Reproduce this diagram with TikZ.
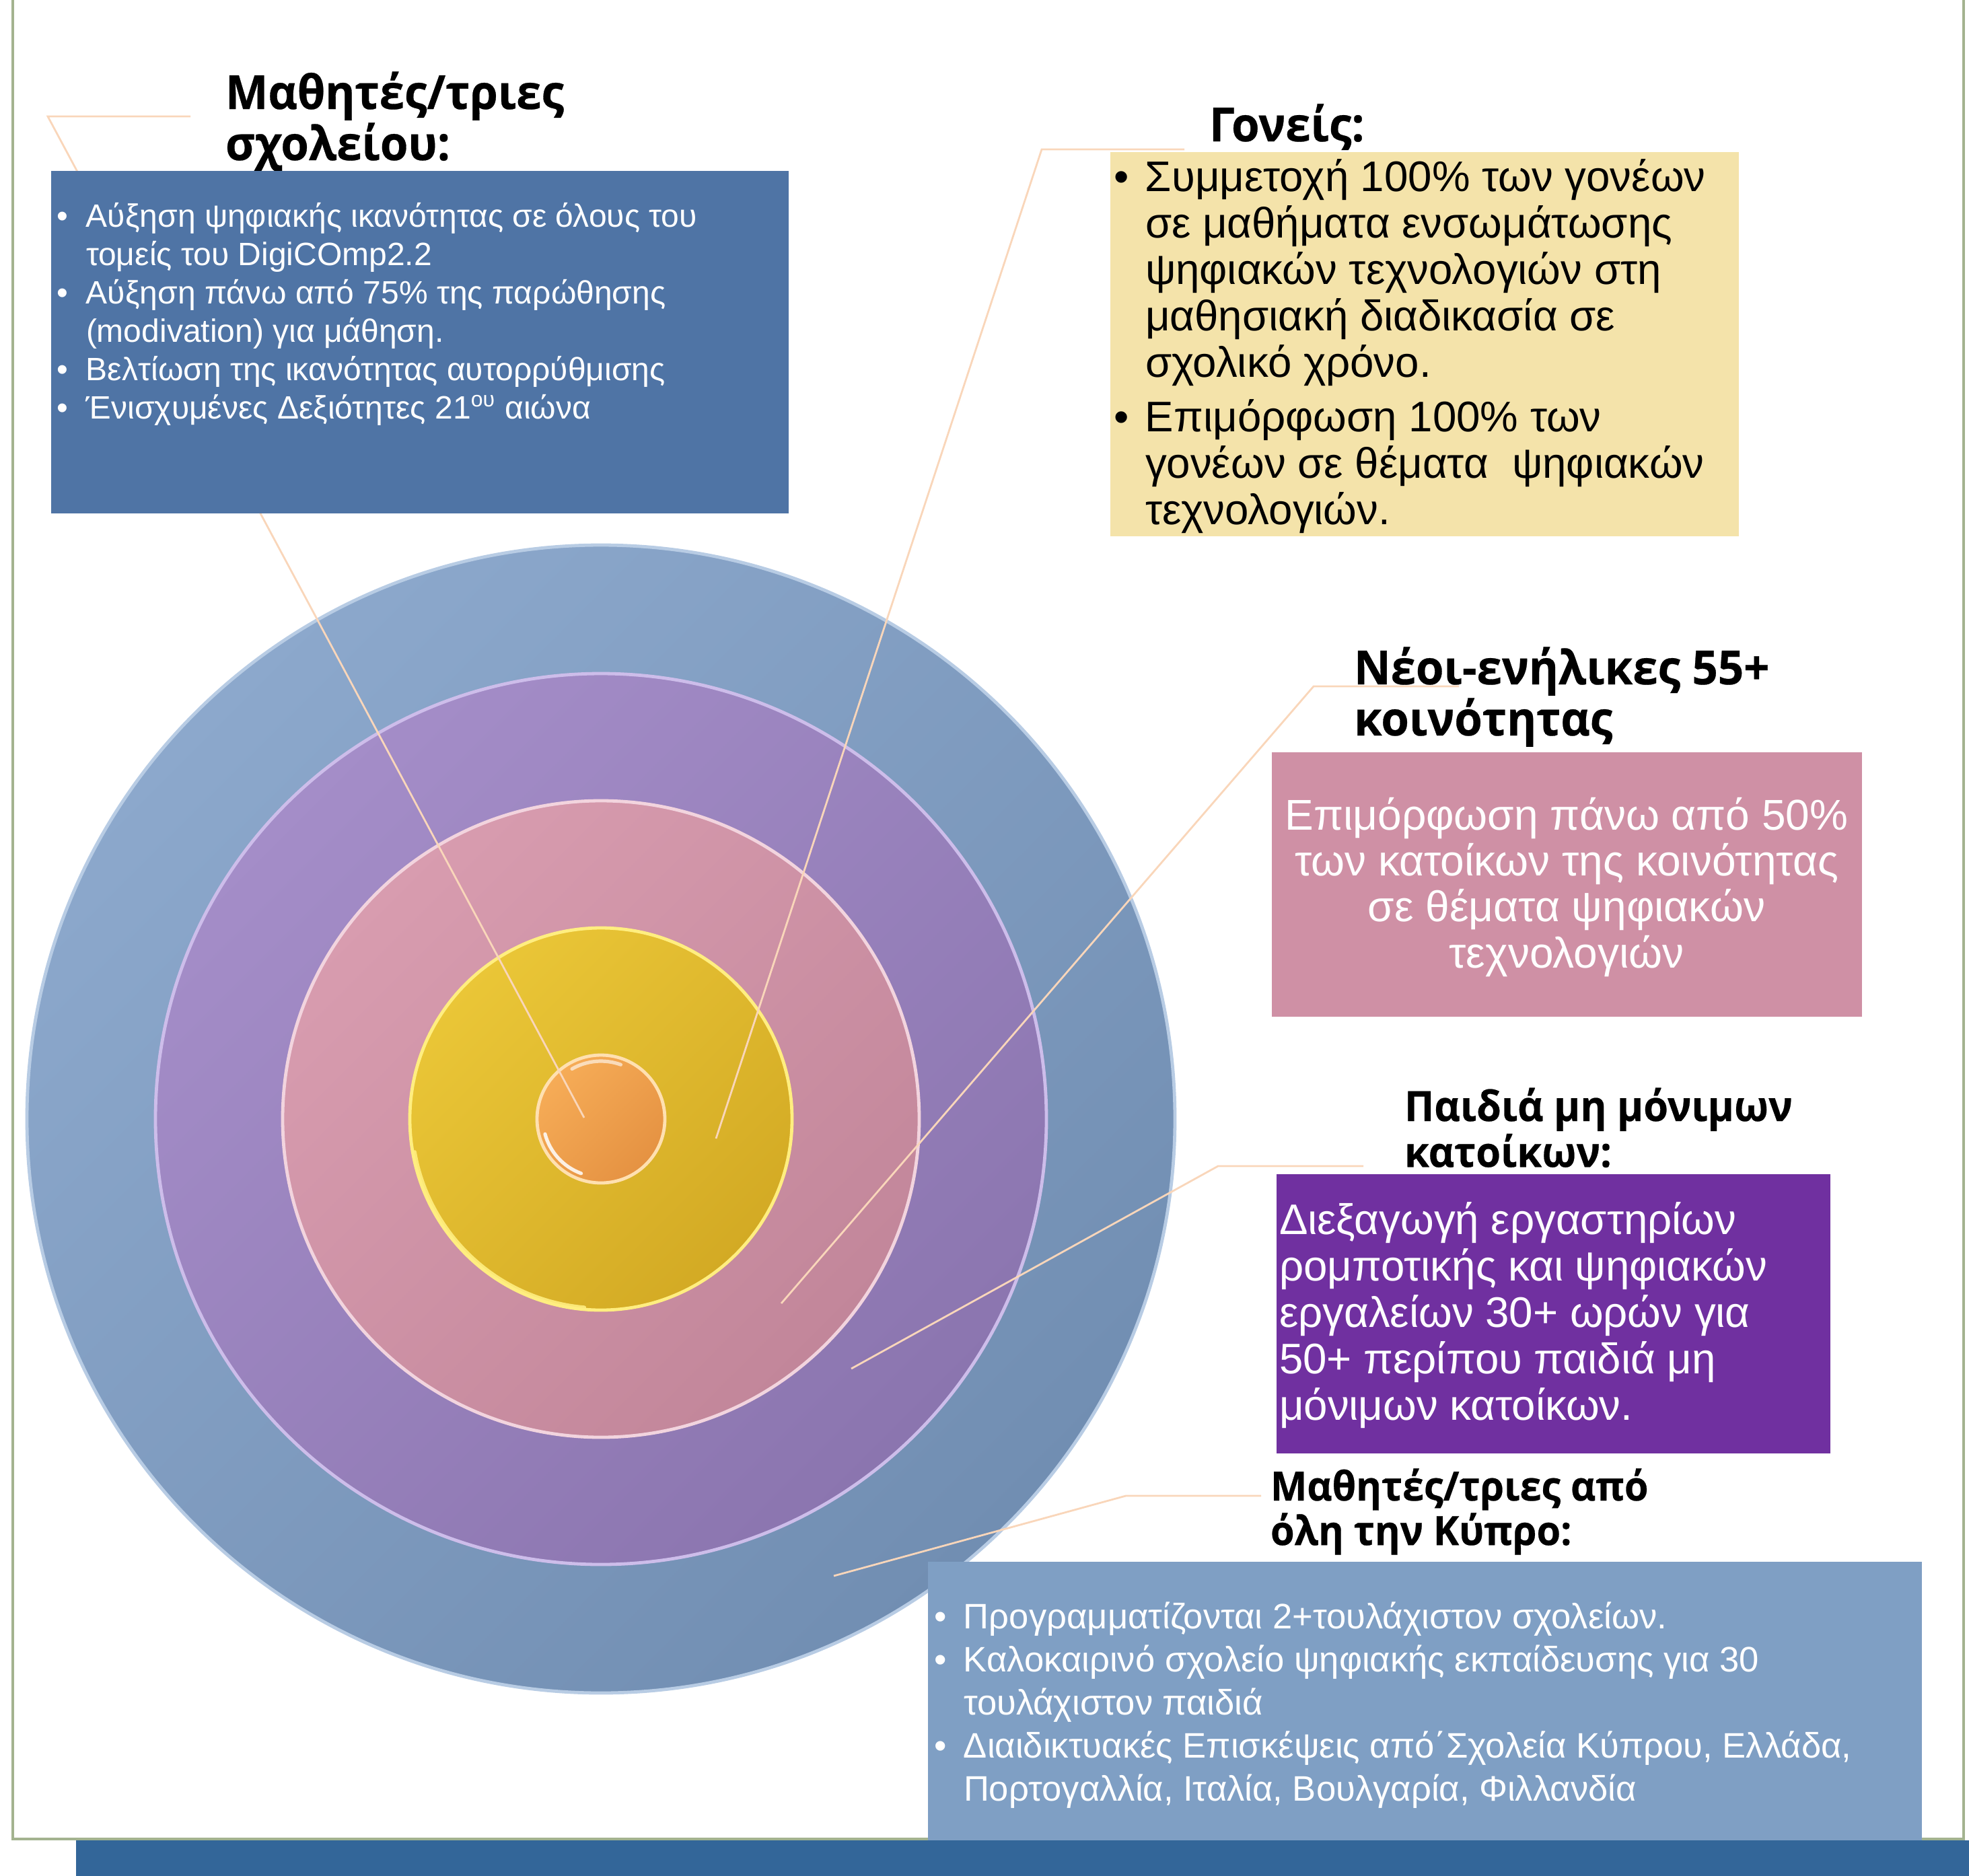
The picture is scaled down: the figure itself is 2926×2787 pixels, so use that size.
\documentclass[tikz,border=0pt]{standalone}
\usepackage{fontspec}
\setmainfont{Liberation Sans}
\newfontfamily\titlefont{Open Sans}[BoldFeatures={FakeStretch=0.96,FakeBold=0.4}]
\definecolor{framecol}{HTML}{A3B38F}
\definecolor{barcol}{HTML}{336699}
\definecolor{leadcol}{HTML}{F9D6BA}
\definecolor{boxA}{HTML}{4F74A5}
\definecolor{boxB}{HTML}{F4E3AA}
\definecolor{boxC}{HTML}{CF90A5}
\definecolor{boxD}{HTML}{7030A0}
\definecolor{boxE}{HTML}{7F9FC4}
\definecolor{c1a}{HTML}{8CA8CC}\definecolor{c1b}{HTML}{718EB2}\definecolor{c1r}{HTML}{B8CCE4}
\definecolor{c2a}{HTML}{A48DC8}\definecolor{c2b}{HTML}{8B75AF}\definecolor{c2r}{HTML}{CDBDEA}
\definecolor{c3a}{HTML}{D89CAF}\definecolor{c3b}{HTML}{C2869A}\definecolor{c3r}{HTML}{F2D4DE}
\definecolor{c4a}{HTML}{EAC637}\definecolor{c4b}{HTML}{D3AA24}\definecolor{c4r}{HTML}{FFEE80}
\definecolor{c5a}{HTML}{F6AC57}\definecolor{c5b}{HTML}{E59242}\definecolor{c5r}{HTML}{FFE0B0}
\newcommand{\bitem}[2]{\par\hangindent=#1\hangafter=1\noindent\makebox[#1][l]{•}#2\par}
\tikzset{
  ring/.style={circle, inner sep=0pt, outer sep=0pt, line width=1.2pt},
  tilt/.style={shading angle=45},
  leader/.style={draw=leadcol, line width=0.7pt},
  panel/.style={rectangle, anchor=north west, inner sep=0pt, outer sep=0pt, draw=none},
  ttl/.style={anchor=base west, inner sep=0pt, outer sep=0pt, font=\titlefont\bfseries},
  txt/.style={anchor=base west, inner sep=0pt, outer sep=0pt},
  gloss/.style={line width=1.3pt, line cap=round}
}
\begin{document}
\begin{tikzpicture}[x=0.25pt,y=-0.25pt]
\useasboundingbox (0,0) rectangle (2926,2787);
% frame and bottom bar
\draw[framecol, line width=0.8pt] (19,-20) rectangle (2918,2733);
\fill[barcol] (113,2735) rectangle (2940,2800);
% concentric circles
\node[ring, top color=c1a, bottom color=c1b, tilt, draw=c1r, minimum size=426.5pt] (r1) at (893,1663) {};
\node[ring, top color=c2a, bottom color=c2b, tilt, draw=c2r, minimum size=331pt] (r2) at (893,1663) {};
\node[ring, top color=c3a, bottom color=c3b, tilt, draw=c3r, minimum size=236.5pt] (r3) at (893,1663) {};
\node[ring, top color=c4a, bottom color=c4b, tilt, draw=c4r, minimum size=142pt] (r4) at (893,1663) {};
\node[ring, top color=c5a, bottom color=c5b, tilt, draw=c5r, minimum size=47.5pt] (r5) at (893,1663) {};
% bevel highlights
\begin{scope}[shift={(r5.center)}, x=0.25pt, y=0.25pt]
  \draw[gloss, white, opacity=0.85] (195:86) arc[start angle=195, end angle=250, radius=86];
  \draw[gloss, white, opacity=0.6] (70:86) arc[start angle=70, end angle=120, radius=86];
  \draw[gloss, c4r, opacity=0.9] (190:281) arc[start angle=190, end angle=265, radius=281];
\end{scope}
% titles
\node[ttl] (t1) at (335,162) {\parbox[t]{250pt}{\fontsize{17.5pt}{19pt}\selectfont Μαθητές/τριες\\σχολείου:}};
\node[ttl] (t2) at (1797,210) {\parbox[t]{150pt}{\fontsize{17.5pt}{19pt}\selectfont Γονείς:}};
\node[ttl] (t3) at (2012,1017) {\parbox[t]{220pt}{\fontsize{17.5pt}{19pt}\selectfont Νέοι-ενήλικες 55+\\κοινότητας}};
\node[ttl] (t4) at (2087,1666) {\parbox[t]{220pt}{\fontsize{15.5pt}{16pt}\selectfont Παιδιά μη μόνιμων\\κατοίκων:}};
\node[ttl] (t5) at (1888,2230) {\parbox[t]{220pt}{\fontsize{15pt}{14.5pt}\selectfont Μαθητές/τριες από\\όλη την Κύπρο:}};
% leader lines
\coordinate (l1a) at (868,1661); \coordinate (l1b) at (71,173);  \coordinate (l1c) at (283,173);
\coordinate (l2a) at (1064,1692); \coordinate (l2b) at (1548,222); \coordinate (l2c) at (1760,222);
\coordinate (l3a) at (1161,1937); \coordinate (l3b) at (1952,1020); \coordinate (l3c) at (2168,1020);
\coordinate (l4a) at (1265,2034); \coordinate (l4b) at (1810,1733); \coordinate (l4c) at (2026,1733);
\coordinate (l5a) at (1239,2342); \coordinate (l5b) at (1673,2223); \coordinate (l5c) at (1874,2223);
\draw[leader] (l1a) -- (l1b) -- (l1c);
\draw[leader] (l2a) -- (l2b) -- (l2c);
\draw[leader] (l3a) -- (l3b) -- (l3c);
\draw[leader] (l4a) -- (l4b) -- (l4c);
\draw[leader] (l5a) -- (l5b) -- (l5c);
% panels
\node[panel, fill=boxA, minimum width=274pt, minimum height=127.25pt] (b1) at (76,254) {};
\node[panel, fill=boxB, minimum width=233.5pt, minimum height=142.75pt] (b2) at (1650,226) {};
\node[panel, fill=boxC, minimum width=219.25pt, minimum height=98.25pt] (b3) at (1890,1118) {};
\node[panel, fill=boxD, minimum width=205.75pt, minimum height=103.75pt] (b4) at (1897,1745) {};
\node[panel, fill=boxE, minimum width=369.25pt, minimum height=103.5pt] (b5) at (1379,2321) {};
% panel texts
\node[txt, text=white] (b1t) at (84,337) {\parbox[t]{270pt}{\fontsize{12pt}{14.25pt}\selectfont\raggedright
\bitem{11pt}{Αύξηση ψηφιακής ικανότητας σε όλους του\newline τομείς του DigiCOmp2.2}
\bitem{11pt}{Αύξηση πάνω από 75\% της παρώθησης\newline (modivation) για μάθηση.}
\bitem{11pt}{Βελτίωση της ικανότητας αυτορρύθμισης}
\bitem{11pt}{Ένισχυμένες Δεξιότητες 21\textsuperscript{ου} αιώνα}}};
\node[txt, text=black] (b2t) at (1655,284) {\parbox[t]{232pt}{\fontsize{15.9pt}{17.25pt}\selectfont\raggedright
\bitem{11.75pt}{Συμμετοχή 100\% των γονέων\newline σε μαθήματα ενσωμάτωσης\newline ψηφιακών τεχνολογιών στη\newline μαθησιακή διαδικασία σε\newline σχολικό χρόνο.}
\vspace{3pt}
\bitem{11.75pt}{Επιμόρφωση 100\% των\newline γονέων σε θέματα \ ψηφιακών\newline τεχνολογιών.}}};
\node[anchor=base, inner sep=0pt, outer sep=0pt, text=white] (b3t) at (2328,1233) {\parbox[t]{219pt}{\centering\fontsize{16pt}{17.1pt}\selectfont Επιμόρφωση πάνω από 50\%\\των κατοίκων της κοινότητας\\σε θέματα ψηφιακών\\τεχνολογιών}};
\node[txt, text=white] (b4t) at (1901,1834) {\parbox[t]{205pt}{\fontsize{15.9pt}{17.25pt}\selectfont\raggedright Διεξαγωγή εργαστηρίων\\ρομποτικής και ψηφιακών\\εργαλείων 30+ ωρών για\\50+ περίπου παιδιά μη\\μόνιμων κατοίκων.}};
\node[txt, text=white] (b5t) at (1388,2420) {\parbox[t]{368pt}{\fontsize{13.15pt}{16pt}\selectfont\raggedright
\bitem{11pt}{Προγραμματίζονται 2+τουλάχιστον σχολείων.}
\bitem{11pt}{Καλοκαιρινό σχολείο ψηφιακής εκπαίδευσης για 30\newline τουλάχιστον παιδιά}
\bitem{11pt}{Διαιδικτυακές Επισκέψεις από΄Σχολεία Κύπρου, Ελλάδα,\newline Πορτογαλλία, Ιταλία, Βουλγαρία, Φιλλανδία}}};
\end{tikzpicture}
\end{document}
